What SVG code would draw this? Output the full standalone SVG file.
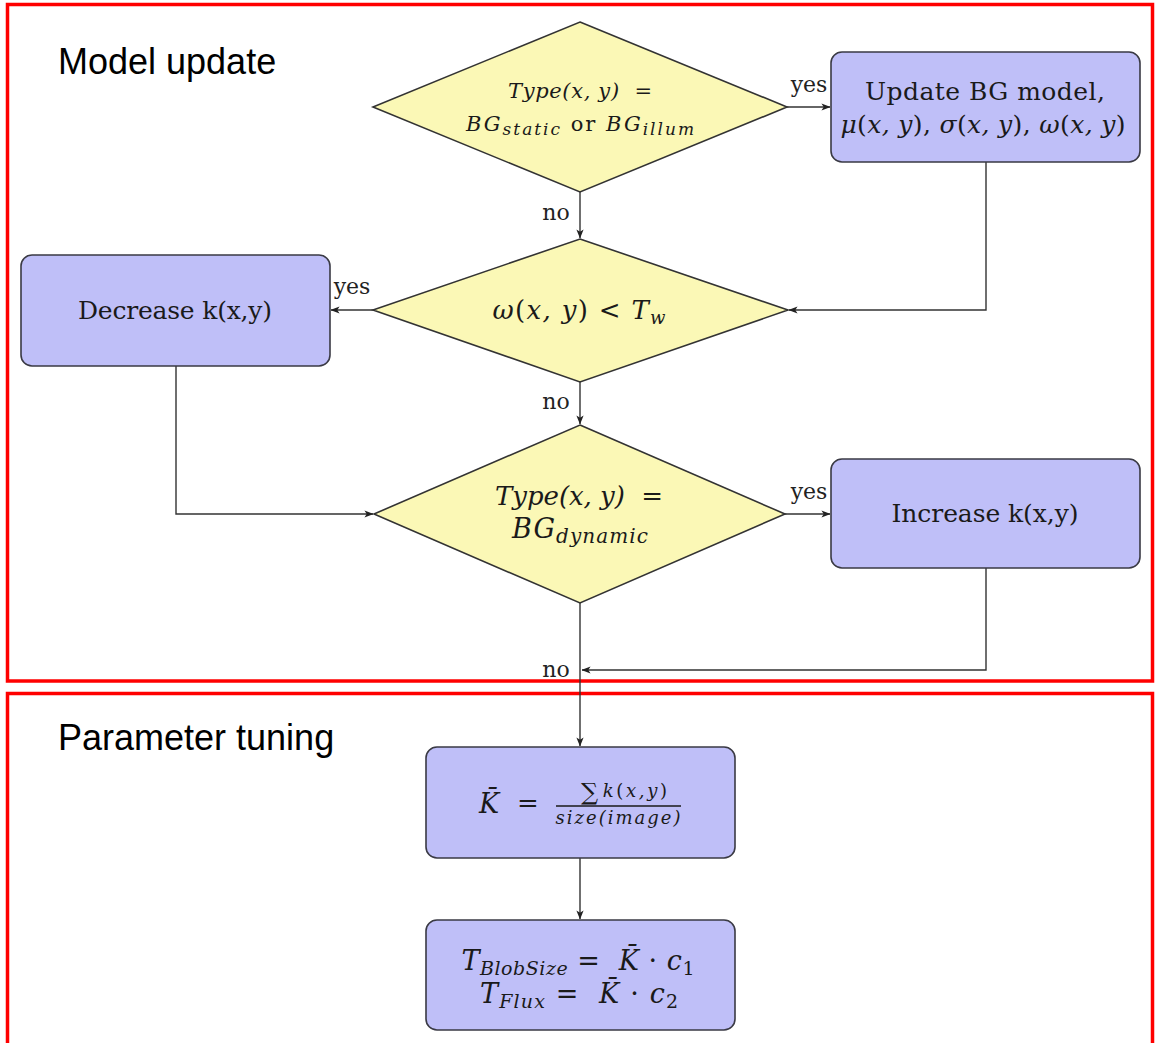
<svg xmlns="http://www.w3.org/2000/svg" width="1155" height="1043" viewBox="0 0 1155 1043">
  <style>
    .frame { fill: none; stroke: #ff0000; stroke-width: 3.5; }
    .section { font-family: "Liberation Sans", Arial, sans-serif; font-size: 36px; fill: #000; }
    .box { fill: #bfbff8; stroke: #3a3a44; stroke-width: 1.6; }
    .dia { fill: #fbf8b6; stroke: #333; stroke-width: 1.6; }
    .t { font-family: "DejaVu Serif", "Liberation Serif", serif; fill: #1a1a1a; text-anchor: middle; }
    .m { font-style: italic; }
    .lbl { font-family: "DejaVu Serif", "Liberation Serif", serif; font-size: 22px; fill: #222; text-anchor: middle; }
    .wire { fill: none; stroke: #333; stroke-width: 1.4; }
  </style>
  <defs>
    <marker id="arr" viewBox="0 0 10 10" refX="9.5" refY="5" markerWidth="9" markerHeight="9" markerUnits="userSpaceOnUse" orient="auto">
      <path d="M0,1 L10,5 L0,9 L2.5,5 Z" fill="#222"/>
    </marker>
  </defs>

  <rect width="1155" height="1043" fill="#fff"/>

  <!-- section frames -->
  <g id="sections">
    <rect class="frame" x="7.5" y="4.5" width="1145" height="676.5"/>
    <rect class="frame" x="7.5" y="693.5" width="1145" height="352"/>
    <text class="section" x="58" y="74">Model update</text>
    <text class="section" x="58" y="750">Parameter tuning</text>
  </g>

  <!-- connectors -->
  <g id="connectors">
    <line class="wire" x1="580" y1="192" x2="580" y2="238" marker-end="url(#arr)"/>
    <line class="wire" x1="787" y1="107" x2="830" y2="107" marker-end="url(#arr)"/>
    <polyline class="wire" points="986,162 986,310 789,310" marker-end="url(#arr)"/>
    <line class="wire" x1="373" y1="310" x2="331" y2="310" marker-end="url(#arr)"/>
    <line class="wire" x1="580" y1="382" x2="580" y2="424" marker-end="url(#arr)"/>
    <polyline class="wire" points="176,366 176,514 373,514" marker-end="url(#arr)"/>
    <line class="wire" x1="785" y1="514" x2="830" y2="514" marker-end="url(#arr)"/>
    <polyline class="wire" points="986,568 986,670 582,670" marker-end="url(#arr)"/>
    <line class="wire" x1="580" y1="603" x2="580" y2="746" marker-end="url(#arr)"/>
    <line class="wire" x1="580" y1="858" x2="580" y2="919" marker-end="url(#arr)"/>
    <text class="lbl" x="556" y="220">no</text>
    <text class="lbl" x="809" y="92">yes</text>
    <text class="lbl" x="352" y="294">yes</text>
    <text class="lbl" x="556" y="409">no</text>
    <text class="lbl" x="809" y="499">yes</text>
    <text class="lbl" x="556" y="677">no</text>
  </g>

  <!-- decision: pixel type static / illumination -->
  <g id="d-type-static">
    <polygon class="dia" points="580,22 787,107 580,192 373,107"/>
    <text class="t m" x="580" y="98" font-size="21" textLength="144">Type(x, y)&#160;&#160;=</text>
    <text class="t" x="580" y="131" font-size="21" textLength="228"><tspan class="m">BG</tspan><tspan class="m" font-size="17" dy="4">static</tspan><tspan dy="-4"> or </tspan><tspan class="m">BG</tspan><tspan class="m" font-size="17" dy="4">illum</tspan></text>
  </g>

  <!-- process: update background model -->
  <g id="p-update-model">
    <rect class="box" x="831" y="52" width="309" height="110" rx="11"/>
    <text class="t" x="985" y="100" font-size="25" textLength="240">Update BG model,</text>
    <text class="t" x="983" y="133" font-size="25" textLength="285"><tspan class="m">μ</tspan>(<tspan class="m">x, y</tspan>), <tspan class="m">σ</tspan>(<tspan class="m">x, y</tspan>), <tspan class="m">ω</tspan>(<tspan class="m">x, y</tspan>)</text>
  </g>

  <!-- decision: weight below threshold -->
  <g id="d-weight">
    <polygon class="dia" points="580,239 788,310 580,382 373,310"/>
    <text class="t" x="579" y="319" font-size="26" textLength="173"><tspan class="m">ω</tspan>(<tspan class="m">x, y</tspan>)&#160;&lt;&#160;<tspan class="m">T</tspan><tspan class="m" font-size="18" dy="5">w</tspan></text>
  </g>

  <!-- process: decrease k -->
  <g id="p-decrease-k">
    <rect class="box" x="21" y="255" width="309" height="111" rx="11"/>
    <text class="t" x="175" y="319" font-size="25" textLength="194">Decrease k(x,y)</text>
  </g>

  <!-- decision: dynamic background -->
  <g id="d-type-dynamic">
    <polygon class="dia" points="580,425 785,514 580,603 374,514"/>
    <text class="t m" x="579" y="505" font-size="26" textLength="168">Type(x, y)&#160;&#160;=</text>
    <text class="t" x="580" y="538" font-size="27" textLength="136"><tspan class="m">BG</tspan><tspan class="m" font-size="20" dy="5">dynamic</tspan></text>
  </g>

  <!-- process: increase k -->
  <g id="p-increase-k">
    <rect class="box" x="831" y="459" width="309" height="109" rx="11"/>
    <text class="t" x="985" y="522" font-size="25" textLength="187">Increase k(x,y)</text>
  </g>

  <!-- process: mean k over the image -->
  <g id="p-mean-k">
    <rect class="box" x="426" y="747" width="309" height="111" rx="11"/>
    <text class="t m" x="489" y="813" font-size="27">K̄</text>
    <text class="t" x="528" y="812" font-size="26">=</text>
    <text class="t" x="624" y="800" font-size="24" textLength="86">∑<tspan class="m" font-size="18" dx="2" dy="-3">k</tspan><tspan font-size="18">(</tspan><tspan class="m" font-size="18">x,y</tspan><tspan font-size="18">)</tspan></text>
    <line x1="556" y1="806" x2="681" y2="806" stroke="#1a1a1a" stroke-width="1.4"/>
    <text class="t m" x="618" y="824" font-size="18" textLength="125">size(image)</text>
  </g>

  <!-- process: thresholds from mean k -->
  <g id="p-thresholds">
    <rect class="box" x="426" y="920" width="309" height="110" rx="11"/>
    <text class="t" x="578" y="970" font-size="27" textLength="233"><tspan class="m">T</tspan><tspan class="m" font-size="19" dy="5">BlobSize</tspan><tspan dy="-5">&#160;=&#160;&#160;</tspan><tspan class="m">K̄</tspan> · <tspan class="m">c</tspan><tspan font-size="19" dy="5">1</tspan></text>
    <text class="t" x="579" y="1003" font-size="27" textLength="198"><tspan class="m">T</tspan><tspan class="m" font-size="19" dy="5">Flux</tspan><tspan dy="-5">&#160;=&#160;&#160;</tspan><tspan class="m">K̄</tspan> · <tspan class="m">c</tspan><tspan font-size="19" dy="5">2</tspan></text>
  </g>
</svg>
